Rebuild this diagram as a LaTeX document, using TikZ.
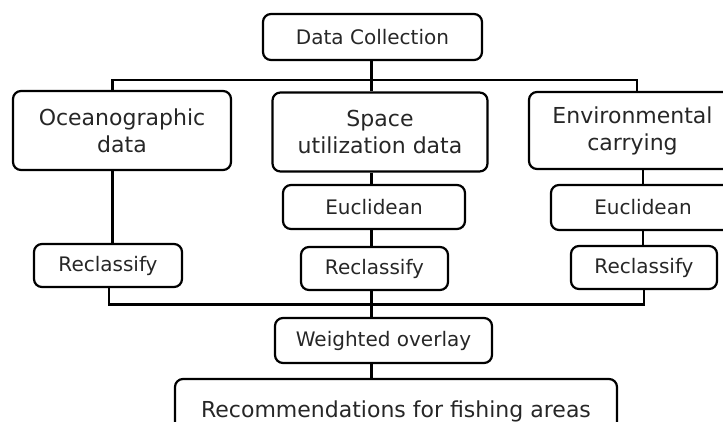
\documentclass[tikz,border=0pt]{standalone}
\usepackage{fontspec}
\setmainfont{DejaVu Sans}
\definecolor{txt}{HTML}{262626}
\begin{document}
\begin{tikzpicture}[x=1pt,y=-1pt,
  box/.style={draw=black, text=txt, line width=2.2pt, rounded corners=8pt, inner sep=0pt, align=center},
  big/.style={font=\fontsize{22}{27}\selectfont},
  small/.style={font=\fontsize{20}{24}\selectfont},
  link/.style={line width=2.2pt}]
\useasboundingbox (0,0) rectangle (723,421);
\clip (0,0) rectangle (723,421);
\node[box,small,minimum width=219pt,minimum height=46pt] (dc) at (372.5,37) {Data Collection};
\node[box,big,minimum width=218pt,minimum height=79pt] (ocean) at (122,130.5) {Oceanographic\\data};
\node[box,big,minimum width=215pt,minimum height=79pt] (space) at (380,132) {Space\\utilization data};
\node[box,big,minimum width=207pt,minimum height=77pt] (env) at (632.5,130.5) {Environmental\\carrying};
\node[box,small,minimum width=182pt,minimum height=44pt] (eu1) at (374,207) {Euclidean};
\node[box,small,minimum width=184pt,minimum height=45pt] (eu2) at (643,207.5) {Euclidean};
\node[box,small,minimum width=148pt,minimum height=43pt] (rc1) at (108,265.5) {Reclassify};
\node[box,small,minimum width=147pt,minimum height=43pt] (rc2) at (374.5,268.5) {Reclassify};
\node[box,small,minimum width=146pt,minimum height=43pt] (rc3) at (644,267.5) {Reclassify};
\node[box,small,minimum width=217pt,minimum height=45pt] (wo) at (383.5,340.5) {Weighted overlay};
\node[box,big,minimum width=442pt,minimum height=64pt] (rec) at (396,411) {Recommendations for fishing areas};
\coordinate (b1L) at (112.5,80);
\coordinate (b1R) at (637,80);
\coordinate (b2) at (371.5,304.5);
\draw[link] ([xshift=-9.5pt]ocean.north) -- (b1L) -- (b1R) -- (b1R |- env.north);
\draw[link] (dc.south -| b2) -- (space.north -| b2);
\draw[link] (space.south -| b2) -- (eu1.north -| b2);
\draw[link] (eu1.south -| b2) -- (rc2.north -| b2);
\draw[link] ([xshift=-9.5pt]ocean.south) -- ([xshift=-9.5pt]ocean.south |- rc1.north);
\draw[link] (eu2.north) -- (eu2.north |- env.south);
\draw[link] (rc3.north -| eu2) -- (eu2.south);
\draw[link] ([xshift=1pt]rc1.south) |- (rc3.south |- b2) -- (rc3.south);
\draw[link] (rc2.south -| b2) -- (wo.north -| b2);
\draw[link] (wo.south -| b2) -- (rec.north -| b2);
\end{tikzpicture}
\end{document}
